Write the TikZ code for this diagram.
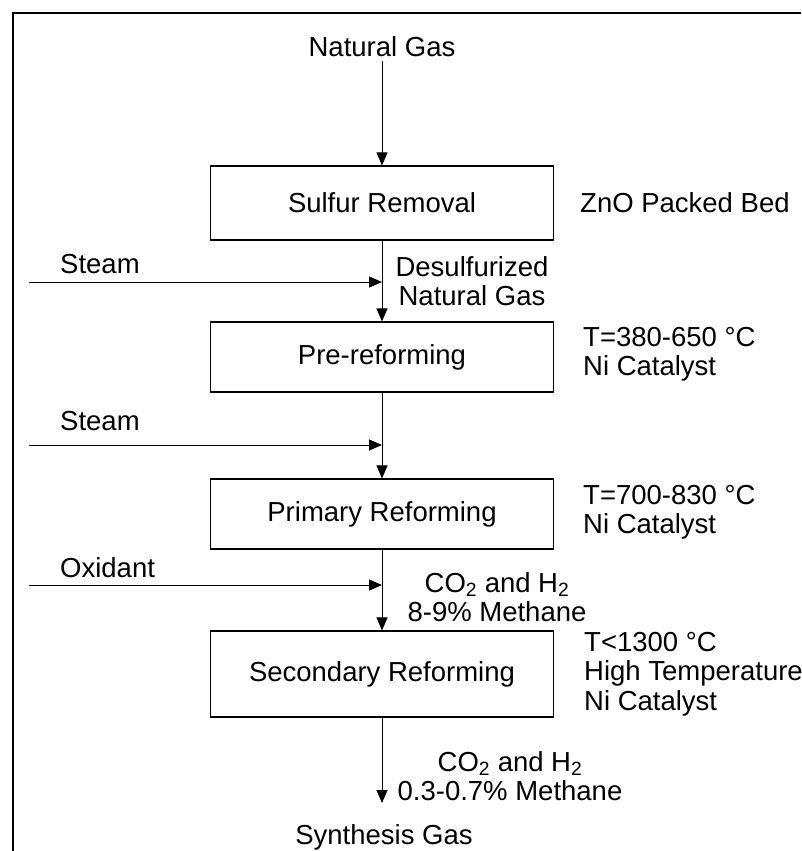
\documentclass[tikz,border=0pt]{standalone}
\usepackage{fontspec}
\setmainfont{Liberation Sans}
\usetikzlibrary{arrows.meta}

\tikzset{
  unit/.style={draw, line width=1.1pt, minimum width=343pt, inner sep=0pt},
  flow/.style={line width=1pt, -{Triangle[length=13pt,width=11pt]}},
  feed/.style={inner sep=0pt},
  info/.style={inner sep=0pt, anchor=west, align=left},
  stream/.style={inner sep=0pt, align=center},
}

\begin{document}
\begin{tikzpicture}[x=1pt,y=-1pt,
    every node/.append style={font=\fontsize{27.5}{29.5}\selectfont}]
    \useasboundingbox (0,0) rectangle (801,851);
    % frame of the figure
    \draw[line width=1.8pt] (13,851) -- (13,13) -- (801,13);

    % reactor train
    \node[feed] (ng) at (382,47) {Natural Gas};
    \node[unit, minimum height=74pt] (sulfur) at (382,203) {Sulfur Removal};
    \node[unit, minimum height=70pt] (pre) at (382,357) {Pre-reforming};
    \node[unit, minimum height=70pt] (primary) at (382,514) {Primary Reforming};
    \node[unit, minimum height=86pt] (second) at (382,674) {Secondary Reforming};
    \node[feed] (syn) at (384,837) {Synthesis Gas};

    % side feeds
    \node[feed, anchor=west] (steamA) at (60,264) {Steam};
    \node[feed, anchor=west] (steamB) at (60,421) {Steam};
    \node[feed, anchor=west] (oxid) at (60,568) {Oxidant};
    \coordinate (inA) at (29,282);
    \coordinate (inB) at (29,445);
    \coordinate (inC) at (29,585);
    \coordinate (jA) at (382,282);
    \coordinate (jB) at (382,445);
    \coordinate (jC) at (382,585);
    \coordinate (out) at (382,803);

    % conditions
    \node[info] (znO) at (580,203) {ZnO Packed Bed};
    \node[info] (preT) at (583,354) {T=380-650 °C\\Ni Catalyst};
    \node[info] (primT) at (583,512) {T=700-830 °C\\Ni Catalyst};
    \node[info] (secT) at (584,674) {T<1300 °C\\High Temperature\\Ni Catalyst};

    % stream labels
    \node[stream] (desulf) at (472,281) {Desulfurized\\Natural Gas};
    \node[stream] (mixA) at (497,597) {CO\textsubscript{2} and H\textsubscript{2}\\8-9\% Methane};
    \node[stream] (mixB) at (510,776) {CO\textsubscript{2} and H\textsubscript{2}\\0.3-0.7\% Methane};

    \draw[flow, shorten <=4pt] (ng) -- (sulfur);
    \draw[flow] (sulfur) -- (pre);
    \draw[flow] (pre) -- (primary);
    \draw[flow] (primary) -- (second);
    \draw[flow] (second) -- (out);
    \draw[flow] (inA) -- (jA);
    \draw[flow] (inB) -- (jB);
    \draw[flow] (inC) -- (jC);
\end{tikzpicture}
\end{document}
